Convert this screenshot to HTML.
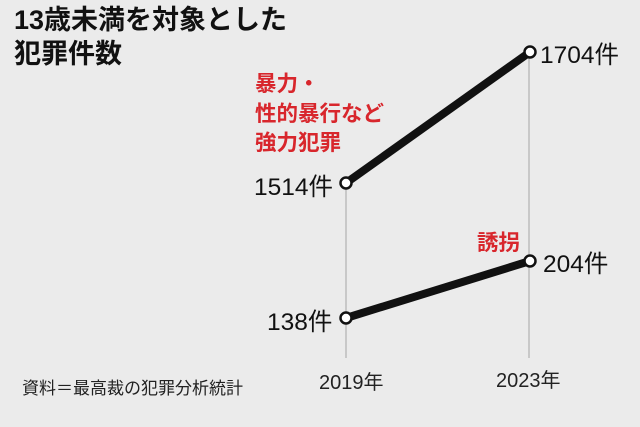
<!DOCTYPE html>
<html><head><meta charset="utf-8"><style>
body{margin:0;width:640px;height:427px;background:#ebebeb;overflow:hidden;font-family:"Liberation Sans","Noto Sans CJK JP",sans-serif;}
.t{position:absolute;white-space:nowrap;}
</style></head><body>
<div class="t" style="left:14px;top:3px;font-size:27px;font-weight:bold;line-height:34px;color:#111;">13歳未満を対象とした<br>犯罪件数</div>
<svg width="640" height="427" style="position:absolute;left:0;top:0">
<line x1="346" y1="183" x2="346" y2="358" stroke="#c8c8c8" stroke-width="2"/>
<line x1="529" y1="52" x2="529" y2="358" stroke="#c8c8c8" stroke-width="2"/>
<line x1="346" y1="183" x2="530" y2="52" stroke="#111" stroke-width="8"/>
<line x1="346" y1="318" x2="530" y2="261" stroke="#111" stroke-width="8"/>
<g fill="#fff" stroke="#111" stroke-width="2.5">
<circle cx="346" cy="183" r="5.5"/><circle cx="530" cy="52" r="5.5"/>
<circle cx="346" cy="318" r="5.5"/><circle cx="530" cy="261" r="5.5"/>
</g>
</svg>
<div class="t" style="left:255px;top:70px;font-size:21.5px;font-weight:bold;line-height:29.5px;color:#d8262c;">暴力・<br>性的暴行など<br>強力犯罪</div>
<div class="t" style="left:477px;top:226px;font-size:21.5px;font-weight:bold;color:#d8262c;">誘拐</div>
<div class="t" style="left:540px;top:36px;font-size:24.5px;color:#111;">1704件</div>
<div class="t" style="left:254px;top:168px;font-size:24.5px;color:#111;">1514件</div>
<div class="t" style="left:543px;top:245px;font-size:24.5px;color:#111;">204件</div>
<div class="t" style="left:267px;top:303px;font-size:24.5px;color:#111;">138件</div>
<div class="t" style="left:319px;top:366px;font-size:20px;color:#222;">2019年</div>
<div class="t" style="left:496px;top:364px;font-size:20px;color:#222;">2023年</div>
<div class="t" style="left:22px;top:374px;font-size:17px;color:#222;">資料＝最高裁の犯罪分析統計</div>
</body></html>
